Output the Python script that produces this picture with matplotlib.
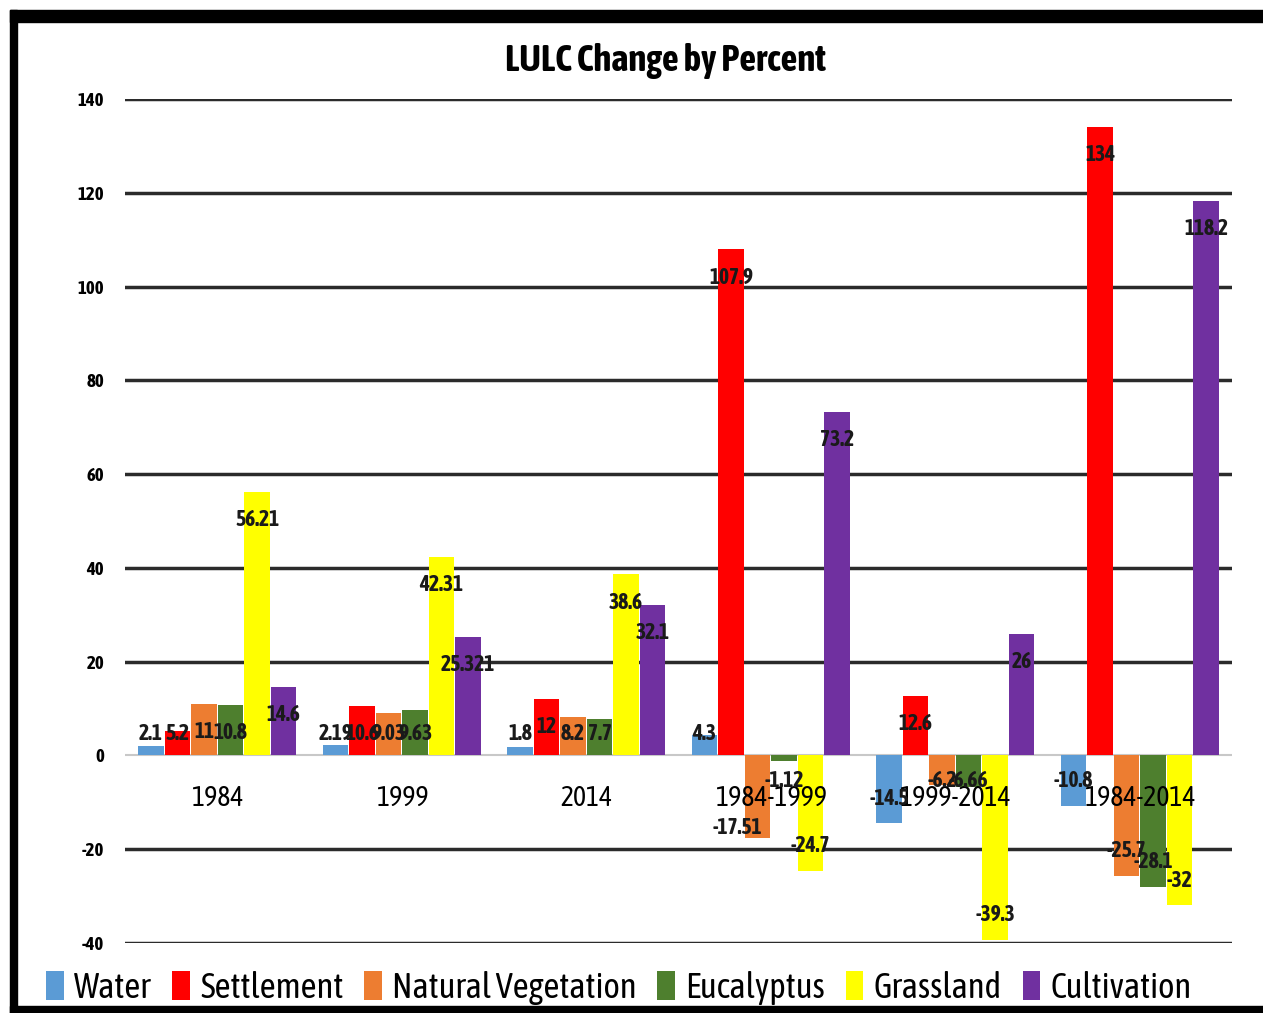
import matplotlib
matplotlib.use('Agg')
import matplotlib.pyplot as plt
from matplotlib import font_manager
from matplotlib.patches import Rectangle
import numpy as np


def _is_bold(w):
    if isinstance(w, str):
        return 'bold' in w.lower() or w.lower() in ('heavy', 'black')
    return w >= 600


# pick a narrow face that also ships a bold weight
faces = {}
for f in font_manager.fontManager.ttflist:
    if 'Narrow' in f.name or 'Condensed' in f.name:
        faces.setdefault(f.name, []).append(f.weight)
narrow = [n for n in sorted(faces) if any(_is_bold(w) for w in faces[n])]
if 'Liberation Sans Narrow' in narrow:
    base = 'Liberation Sans Narrow'
elif narrow:
    base = narrow[0]
else:
    base = 'Liberation Sans'
plt.rcParams['font.family'] = [base, 'DejaVu Sans']
plt.rcParams['font.stretch'] = 'condensed'
plt.rcParams['axes.unicode_minus'] = False

periods = ['1984', '1999', '2014', '1984-1999', '1999-2014', '1984-2014']
classes = ['Water', 'Settlement', 'Natural Vegetation', 'Eucalyptus', 'Grassland', 'Cultivation']

water = [2.1, 2.19, 1.8, 4.3, -14.5, -10.8]
settlement = [5.2, 10.6, 12, 107.9, 12.6, 134]
natural_veg = [11, 9.03, 8.2, -17.51, -6.2, -25.7]
eucalyptus = [10.8, 9.63, 7.7, -1.12, -6.66, -28.1]
grassland = [56.21, 42.31, 38.6, -24.7, -39.3, -32]
cultivation = [14.6, 25.321, 32.1, 73.2, 26, 118.2]

series = [water, settlement, natural_veg, eucalyptus, grassland, cultivation]
colors = ['#5B9BD5', '#FF0000', '#ED7D31', '#4E7F2E', '#FFFF00', '#7030A0']

fig = plt.figure(figsize=(12.63, 10.13), dpi=100)
ax = fig.add_axes([0.099, 0.0691, 0.8765, 0.8332])

yticks = list(range(-40, 141, 20))
for t in yticks:
    if t == 0:
        ax.axhline(t, color='#c8c8c8', linewidth=1.5, zorder=1)
    else:
        ax.axhline(t, color='#2b2b2b', linewidth=2.5, zorder=1)

x = np.arange(len(periods))
step = 0.1436
width = 0.138
for i, (vals, col) in enumerate(zip(series, colors)):
    pos = x + (i - 2.5) * step
    ax.bar(pos, vals, width, color=col, label=classes[i], zorder=2)
    for j, v in enumerate(vals):
        if v >= 0:
            ty = max(v - 6, 4.6)
        else:
            ty = min(v + 5.3, -5.5)
        tx = pos[j]
        # the -17.51 label sits lower and to the left of its bar
        if i == 2 and j == 3:
            tx -= 0.11
            ty -= 3.3
        ax.text(tx, ty, f'{v:g}', ha='center', va='center', fontsize=15.5,
                fontweight='bold', color='#1a1a1a', zorder=5)

ax.set_xlim(-0.5, len(periods) - 0.5)
ax.set_ylim(-40, 140)
ax.set_yticks(yticks)

for s in ['top', 'right', 'left']:
    ax.spines[s].set_visible(False)
ax.spines['bottom'].set_position(('data', 0))
ax.spines['bottom'].set_visible(False)

# category names sit on top of the bars
ax.set_axisbelow(False)
ax.set_xticks(x)
ax.set_xticklabels(periods, fontsize=20)
ax.tick_params(axis='x', length=0, pad=21)
ax.tick_params(axis='y', length=0, pad=15, labelsize=13.5)
for lbl in ax.get_yticklabels():
    lbl.set_fontweight('bold')

fig.text(0.527, 0.94, 'LULC Change by Percent', ha='center', va='center',
         fontsize=26.5, fontweight='bold')

fig.legend(loc='center', bbox_to_anchor=(0.49, 0.025), ncol=6, frameon=False,
           fontsize=25, handlelength=0.5, handleheight=0.9, handletextpad=0.3,
           columnspacing=0.6)

# black frame around the chart
fig.add_artist(Rectangle((10 / 1263, 1 - 22 / 1013), 1, 12 / 1013,
                         transform=fig.transFigure, color='black'))
fig.add_artist(Rectangle((10 / 1263, 0), 7 / 1263, 1 - 10 / 1013,
                         transform=fig.transFigure, color='black'))
fig.add_artist(Rectangle((10 / 1263, 0), 1, 7 / 1013,
                         transform=fig.transFigure, color='black'))

fig.savefig('out.png', dpi=100)
